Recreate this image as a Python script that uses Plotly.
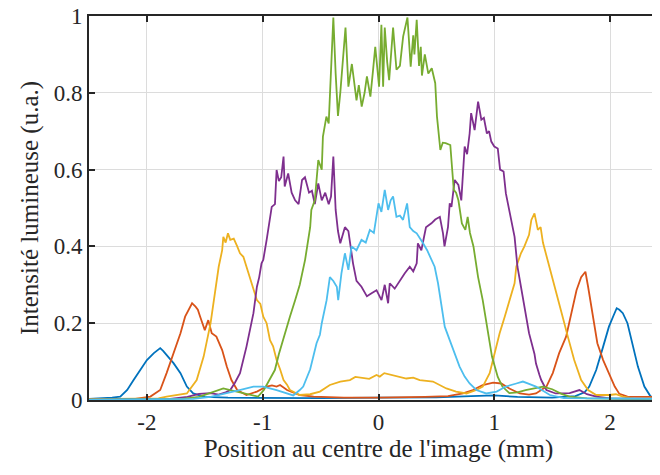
import plotly.graph_objects as go

# ---- data (x in mm, y in a.u.) ----
blue_x = [-2.5, -2.4, -2.3, -2.23, -2.17, -2.115, -2.06, -2.0, -1.94, -1.9, -1.885, -1.86, -1.83, -1.77, -1.71,
          -1.655, -1.6, -1.5, -1.3, -1.0, -0.5, 0.0, 0.5, 0.8, 1.0, 1.2, 1.5, 1.7, 1.78, 1.82, 1.88, 1.94, 1.99,
          2.03, 2.057, 2.08, 2.11, 2.15, 2.195, 2.24, 2.296, 2.35, 2.5]
blue_y = [0.003, 0.004, 0.006, 0.009, 0.026, 0.052, 0.078, 0.104, 0.122, 0.132, 0.135, 0.128, 0.117, 0.096, 0.07,
          0.035, 0.017, 0.008, 0.006, 0.005, 0.005, 0.006, 0.007, 0.01, 0.012, 0.008, 0.006, 0.01, 0.02, 0.035,
          0.078, 0.139, 0.191, 0.22, 0.239, 0.235, 0.226, 0.2, 0.139, 0.087, 0.035, 0.009, 0.003]

orange_x = [-2.5, -2.1, -1.97, -1.885, -1.83, -1.77, -1.71, -1.67, -1.64, -1.61, -1.58, -1.56, -1.54, -1.5, -1.47,
            -1.44, -1.4, -1.35, -1.31, -1.27, -1.22, -1.14, -1.05, -0.966, -0.92, -0.88, -0.85, -0.79, -0.68, -0.56,
            -0.3, 0.0, 0.4, 0.6, 0.73, 0.815, 0.9, 0.99, 1.06, 1.13, 1.22, 1.3, 1.36, 1.45, 1.505, 1.56, 1.62, 1.66,
            1.71, 1.75, 1.787, 1.81, 1.85, 1.89, 1.94, 1.99, 2.04, 2.08, 2.15, 2.3, 2.5]
orange_y = [0.002, 0.003, 0.009, 0.026, 0.07, 0.122, 0.174, 0.217, 0.235, 0.252, 0.243, 0.235, 0.217, 0.182, 0.208,
            0.174, 0.165, 0.13, 0.087, 0.052, 0.026, 0.013, 0.022, 0.035, 0.038, 0.035, 0.039, 0.026, 0.013, 0.009,
            0.006, 0.006, 0.008, 0.01, 0.017, 0.026, 0.039, 0.045, 0.043, 0.03, 0.017, 0.014, 0.017, 0.035, 0.07,
            0.122, 0.165, 0.217, 0.286, 0.32, 0.334, 0.295, 0.217, 0.148, 0.104, 0.07, 0.035, 0.016, 0.009, 0.008,
            0.008]

yellow_x = [-2.5, -1.9, -1.83, -1.74, -1.655, -1.57, -1.51, -1.45, -1.41, -1.38, -1.35, -1.34, -1.32, -1.3, -1.28,
            -1.25, -1.22, -1.196, -1.167, -1.124, -1.095, -1.05, -1.02, -0.995, -0.966, -0.937, -0.91, -0.88, -0.85,
            -0.82, -0.79, -0.765, -0.68, -0.59, -0.506, -0.42, -0.33, -0.247, -0.2, -0.13, -0.08, -0.017, 0.011,
            0.05, 0.126, 0.18, 0.24, 0.3, 0.356, 0.47, 0.53, 0.586, 0.67, 0.76, 0.845, 0.9, 0.96, 1.0, 1.046, 1.09,
            1.13, 1.175, 1.19, 1.23, 1.26, 1.3, 1.32, 1.347, 1.376, 1.4, 1.42, 1.476, 1.535, 1.59, 1.635, 1.69,
            1.75, 1.81, 1.88, 1.99, 2.05, 2.11, 2.2, 2.5]
yellow_y = [0.002, 0.004, 0.009, 0.013, 0.017, 0.052, 0.113, 0.2, 0.286, 0.347, 0.39, 0.425, 0.41, 0.434, 0.417,
            0.42, 0.4, 0.382, 0.373, 0.33, 0.304, 0.26, 0.25, 0.217, 0.2, 0.156, 0.14, 0.104, 0.08, 0.052, 0.04,
            0.026, 0.013, 0.015, 0.022, 0.039, 0.048, 0.052, 0.06, 0.056, 0.055, 0.065, 0.061, 0.07, 0.065, 0.06,
            0.056, 0.058, 0.052, 0.048, 0.039, 0.03, 0.022, 0.017, 0.026, 0.035, 0.07, 0.122, 0.174, 0.217, 0.26,
            0.304, 0.347, 0.382, 0.4, 0.43, 0.469, 0.486, 0.443, 0.45, 0.41, 0.347, 0.286, 0.217, 0.165, 0.104,
            0.052, 0.026, 0.013, 0.013, 0.015, 0.009, 0.004, 0.003]

purple_x = [-2.5, -1.8, -1.65, -1.55, -1.45, -1.38, -1.32, -1.28, -1.24, -1.196, -1.14, -1.08, -1.05, -1.03, -1.01,
            -0.995, -0.966, -0.95, -0.937, -0.922, -0.894, -0.88, -0.86, -0.84, -0.82, -0.81, -0.78, -0.75, -0.72,
            -0.69, -0.66, -0.635, -0.6, -0.575, -0.55, -0.52, -0.49, -0.46, -0.43, -0.41, -0.39, -0.37, -0.35,
            -0.33, -0.29, -0.26, -0.22, -0.19, -0.147, -0.1, -0.06, -0.017, 0.026, 0.054, 0.083, 0.097, 0.14,
            0.184, 0.227, 0.27, 0.3, 0.33, 0.34, 0.37, 0.41, 0.457, 0.49, 0.53, 0.557, 0.57, 0.6, 0.615, 0.63,
            0.658, 0.69, 0.715, 0.744, 0.765, 0.787, 0.8, 0.83, 0.86, 0.888, 0.91, 0.936, 0.955, 0.974, 1.0, 1.03,
            1.05, 1.08, 1.1, 1.13, 1.175, 1.2, 1.23, 1.276, 1.3, 1.347, 1.36, 1.39, 1.405, 1.45, 1.53, 1.65, 1.735,
            1.8, 1.88, 2.0, 2.5]
purple_y = [0.001, 0.003, 0.008, 0.016, 0.018, 0.014, 0.02, 0.026, 0.045, 0.07, 0.139, 0.226, 0.295, 0.32, 0.356,
            0.365, 0.417, 0.45, 0.477, 0.503, 0.51, 0.599, 0.57, 0.58, 0.634, 0.556, 0.59, 0.54, 0.52, 0.51, 0.573,
            0.58, 0.54, 0.545, 0.51, 0.564, 0.52, 0.54, 0.51, 0.53, 0.634, 0.495, 0.44, 0.408, 0.45, 0.44, 0.356,
            0.31, 0.295, 0.27, 0.278, 0.286, 0.26, 0.3, 0.252, 0.304, 0.29, 0.312, 0.33, 0.347, 0.335, 0.356,
            0.408, 0.39, 0.45, 0.46, 0.47, 0.477, 0.434, 0.4, 0.45, 0.512, 0.503, 0.573, 0.56, 0.52, 0.66, 0.64,
            0.694, 0.747, 0.703, 0.777, 0.73, 0.735, 0.694, 0.7, 0.673, 0.66, 0.655, 0.6, 0.595, 0.538, 0.49,
            0.425, 0.347, 0.295, 0.217, 0.174, 0.12, 0.095, 0.065, 0.052, 0.026, 0.017, 0.018, 0.026, 0.015, 0.009,
            0.004, 0.002]

green_x = [-2.5, -1.7, -1.55, -1.48, -1.4, -1.34, -1.28, -1.2, -1.14, -1.08, -1.04, -0.99, -0.94, -0.895, -0.86,
           -0.81, -0.765, -0.72, -0.68, -0.634, -0.59, -0.58, -0.55, -0.52, -0.49, -0.48, -0.45, -0.43, -0.42,
           -0.39, -0.37, -0.35, -0.33, -0.31, -0.285, -0.26, -0.23, -0.19, -0.17, -0.145, -0.12, -0.1, -0.07,
           -0.05, -0.028, 0.005, 0.025, 0.04, 0.054, 0.075, 0.092, 0.126, 0.155, 0.185, 0.213, 0.25, 0.278, 0.3,
           0.31, 0.33, 0.35, 0.365, 0.375, 0.4, 0.43, 0.46, 0.49, 0.505, 0.534, 0.555, 0.58, 0.62, 0.65, 0.67,
           0.69, 0.72, 0.75, 0.77, 0.79, 0.82, 0.86, 0.9, 0.945, 0.98, 1.03, 1.07, 1.13, 1.2, 1.27, 1.33, 1.42,
           1.5, 1.58, 1.65, 1.8, 2.5]
green_y = [0.001, 0.003, 0.008, 0.016, 0.025, 0.03, 0.026, 0.02, 0.016, 0.012, 0.009, 0.026, 0.052, 0.078, 0.12,
           0.174, 0.217, 0.26, 0.3, 0.365, 0.45, 0.495, 0.52, 0.625, 0.6, 0.686, 0.738, 0.72, 0.8, 0.996, 0.85,
           0.74, 0.8, 0.885, 0.97, 0.816, 0.875, 0.78, 0.82, 0.764, 0.8, 0.843, 0.79, 0.85, 0.92, 0.816, 0.977,
           0.816, 0.97, 0.88, 0.833, 0.97, 0.86, 0.87, 0.947, 0.996, 0.868, 0.95, 0.9, 0.99, 0.87, 0.92, 0.845,
           0.9, 0.85, 0.864, 0.825, 0.738, 0.651, 0.67, 0.669, 0.664, 0.547, 0.54, 0.52, 0.46, 0.443, 0.477,
           0.435, 0.4, 0.32, 0.26, 0.18, 0.113, 0.06, 0.035, 0.018, 0.02, 0.026, 0.03, 0.035, 0.028, 0.016, 0.009,
           0.004, 0.002]

lightblue_x = [-2.5, -1.6, -1.45, -1.31, -1.2, -1.08, -1.02, -0.995, -0.88, -0.765, -0.736, -0.68, -0.65, -0.59,
               -0.535, -0.506, -0.49, -0.448, -0.42, -0.39, -0.36, -0.348, -0.32, -0.29, -0.26, -0.233, -0.19,
               -0.147, -0.11, -0.075, -0.04, 0.0, 0.025, 0.054, 0.083, 0.105, 0.126, 0.155, 0.185, 0.212, 0.247,
               0.27, 0.3, 0.33, 0.356, 0.385, 0.42, 0.457, 0.485, 0.514, 0.543, 0.572, 0.615, 0.658, 0.7, 0.744,
               0.787, 0.845, 0.93, 1.02, 1.1, 1.19, 1.247, 1.3, 1.36, 1.48, 1.6, 2.5]
lightblue_y = [0.001, 0.003, 0.008, 0.017, 0.026, 0.035, 0.036, 0.035, 0.026, 0.016, 0.012, 0.026, 0.035, 0.08,
               0.148, 0.17, 0.2, 0.26, 0.32, 0.31, 0.295, 0.26, 0.33, 0.382, 0.339, 0.4, 0.39, 0.417, 0.41, 0.443,
               0.435, 0.512, 0.49, 0.547, 0.495, 0.52, 0.53, 0.477, 0.48, 0.469, 0.512, 0.45, 0.44, 0.434, 0.42,
               0.408, 0.39, 0.365, 0.347, 0.304, 0.243, 0.191, 0.156, 0.122, 0.087, 0.061, 0.043, 0.026, 0.017,
               0.022, 0.035, 0.043, 0.048, 0.042, 0.035, 0.013, 0.005, 0.003]

x_tickvals = [-2, -1, 0, 1, 2]
x_ticktext = ["-2", "-1", "0", "1", "2"]
y_tickvals = [0, 0.2, 0.4, 0.6, 0.8, 1]
y_ticktext = ["0", "0.2", "0.4", "0.6", "0.8", "1"]

series = [
    (blue_x, blue_y, "#0072BD"),
    (orange_x, orange_y, "#D95319"),
    (yellow_x, yellow_y, "#EDB120"),
    (purple_x, purple_y, "#7E2F8E"),
    (green_x, green_y, "#77AC30"),
    (lightblue_x, lightblue_y, "#4DBEEE"),
]

fig = go.Figure()
for xs, ys, col in series:
    fig.add_trace(go.Scatter(x=xs, y=ys, mode="lines", line=dict(color=col, width=1.8),
                             showlegend=False))

axis_col = "#262626"
FF = "Liberation Serif, Times New Roman, serif"
fig.update_layout(
    template="none",
    width=660, height=475,
    margin=dict(l=81, r=0, t=8, b=83),
    paper_bgcolor="white", plot_bgcolor="white",
    font=dict(family=FF, size=22),
)
fig.update_xaxes(
    range=[-2.5, 2.5], tickvals=x_tickvals, ticktext=x_ticktext,
    showgrid=True, gridcolor="#dcdcdc", gridwidth=1, zeroline=False,
    showline=True, linecolor=axis_col, linewidth=2, mirror="ticks",
    ticks="inside", ticklen=6, tickwidth=2, tickcolor=axis_col, ticklabeloverflow="allow",
    tickfont=dict(family=FF, size=23, color=axis_col),
    title=dict(text="Position au centre de l'image (mm)", font=dict(family=FF, size=25, color=axis_col), standoff=6),
)
fig.update_yaxes(
    range=[0, 1], tickvals=y_tickvals, ticktext=y_ticktext,
    showgrid=True, gridcolor="#dcdcdc", gridwidth=1, zeroline=False,
    showline=True, linecolor=axis_col, linewidth=2, mirror=False,
    ticks="inside", ticklen=6, tickwidth=2, tickcolor=axis_col, ticklabeloverflow="allow",
    tickfont=dict(family=FF, size=23, color=axis_col),
    title=dict(text="Intensité lumineuse (u.a.)", font=dict(family=FF, size=25, color=axis_col), standoff=8),
)

fig.write_html("out.html")
